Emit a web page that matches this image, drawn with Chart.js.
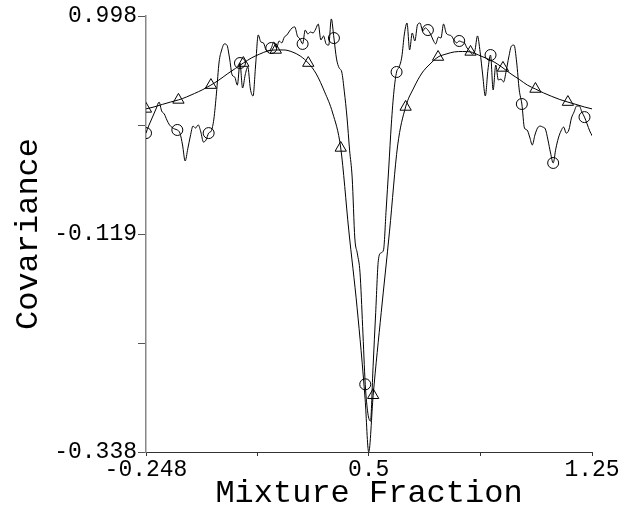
<!DOCTYPE html>
<html>
<head>
<meta charset="utf-8">
<script src="https://cdn.jsdelivr.net/npm/chart.js@4.4.1/dist/chart.umd.min.js"></script>
<style>
  html, body { margin: 0; padding: 0; background: #fff; }
  canvas { display: block; }
</style>
</head>
<body>
<canvas id="cov" width="622" height="510"></canvas>
<script>
// axis labels
var yTicks = [-0.338, -0.119, 0.998]
var xTicks = [-0.248, 0.5, 1.25]

// smooth fit (triangles)
var fitX = [-0.248, -0.221, -0.193, -0.166, -0.139, -0.112, -0.085, -0.057, -0.030, -0.003,
    0.025, 0.052, 0.079, 0.106, 0.134, 0.161, 0.188, 0.215, 0.243, 0.270,
    0.297, 0.324, 0.352, 0.379, 0.406, 0.433, 0.461, 0.488, 0.5, 0.515,
    0.542, 0.570, 0.597, 0.624, 0.651, 0.679, 0.706, 0.733, 0.760, 0.788,
    0.815, 0.842, 0.869, 0.897, 0.924, 0.951, 0.978, 1.006, 1.033, 1.060,
    1.087, 1.115, 1.142, 1.169, 1.196, 1.224, 1.25]
var fitY = [0.522, 0.532, 0.545, 0.557, 0.568, 0.583, 0.601, 0.621, 0.644, 0.670,
    0.701, 0.729, 0.757, 0.783, 0.803, 0.819, 0.824, 0.824, 0.814, 0.793,
    0.757, 0.701, 0.609, 0.501, 0.322, -0.099, -0.193, -0.285, -0.338, -0.281,
    -0.198, -0.104, 0.332, 0.532, 0.629, 0.706, 0.752, 0.788, 0.803, 0.814,
    0.816, 0.814, 0.798, 0.780, 0.760, 0.732, 0.701, 0.673, 0.644, 0.624,
    0.604, 0.586, 0.570, 0.557, 0.545, 0.532, 0.522]

// sampled covariance (circles), regular x spacing from x = -0.248
var sampleX0 = -0.248
var sampleDx = 0.1052 / 12
var sampleY = [0.398, 0.434, 0.465, 0.496, 0.527, 0.557, 0.511, 0.496, 0.465, 0.440,
    0.427, 0.419, 0.414, 0.398, 0.337, 0.255, 0.317, 0.383, 0.434, 0.424,
    0.440, 0.404, 0.352, 0.363, 0.398, 0.409, 0.470, 0.603, 0.762, 0.824,
    0.855, 0.849, 0.783, 0.696, 0.685, 0.644, 0.757, 0.629, 0.696, 0.737,
    0.624, 0.588, 0.747, 0.901, 0.865, 0.860, 0.824, 0.819, 0.834, 0.865,
    0.834, 0.870, 0.860, 0.890, 0.901, 0.921, 0.937, 0.942, 0.896, 0.880,
    0.855, 0.926, 0.906, 0.916, 0.911, 0.931, 0.957, 0.875, 0.896, 0.855,
    0.849, 0.983, 0.885, 0.778, 0.732, 0.711, 0.609, 0.480, 0.311, 0.168,
    -0.123, -0.139, -0.158, -0.212, -0.270, -0.299, -0.307, -0.252, -0.198, -0.146,
    -0.138, -0.135, 0.004, 0.219, 0.445, 0.614, 0.711, 0.737, 0.788, 0.906,
    0.962, 0.824, 0.911, 0.870, 0.952, 0.962, 0.921, 0.937, 0.926, 0.906,
    0.875, 0.855, 0.890, 0.885, 0.957, 0.911, 0.901, 0.896, 0.875, 0.860,
    0.870, 0.865, 0.860, 0.834, 0.819, 0.803, 0.819, 0.896, 0.814, 0.696,
    0.588, 0.721, 0.798, 0.619, 0.747, 0.670, 0.675, 0.660, 0.716, 0.788,
    0.844, 0.849, 0.762, 0.619, 0.547, 0.424, 0.414, 0.378, 0.337, 0.388,
    0.424, 0.434, 0.429, 0.419, 0.363, 0.296, 0.245, 0.317, 0.373, 0.409,
    0.429, 0.398, 0.414, 0.475, 0.506, 0.537, 0.537, 0.506, 0.480, 0.445,
    0.409, 0.383]

// the covariance axis is piecewise linear between its labelled ticks
function toAxis(v) {
    for (var i = 0; i < yTicks.length - 1; i++) {
        if (v <= yTicks[i + 1] || i == yTicks.length - 2) {
            return i + (v - yTicks[i]) / (yTicks[i + 1] - yTicks[i])
        }
    }
}

var fitData = fitX.map(function(x, i) { return {x: x, y: toAxis(fitY[i])} })
var sampleData = sampleY.map(function(v, i) { return {x: sampleX0 + i * sampleDx, y: toAxis(v)} })

var fitMarkStep = 0.109

var font = "'Liberation Mono', 'Courier New', monospace"

Chart.defaults.color = '#000'
Chart.defaults.font.family = font

var ctx = document.getElementById('cov').getContext('2d')
var chart = new Chart(ctx, {
    type: 'scatter',
    data: {
        datasets: [{
                data: sampleData,
                showLine: true,
                borderColor: '#000',
                borderWidth: 1,
                cubicInterpolationMode: 'monotone',
                pointStyle: 'circle',
                pointRadius: function(c) { return c.dataIndex % 12 === 0 ? 5.5 : 0 },
                pointBorderColor: '#000',
                pointBackgroundColor: 'rgba(0,0,0,0)',
                pointBorderWidth: 1
            },
            {
                data: fitData,
                showLine: true,
                borderColor: '#000',
                borderWidth: 1,
                cubicInterpolationMode: 'monotone',
                pointStyle: 'triangle',
                pointRadius: function(c) {
                    var r = (c.raw.x - fitX[0]) / fitMarkStep
                    return Math.abs(r - Math.round(r)) < 0.02 ? 6.5 : 0
                },
                pointBorderColor: '#000',
                pointBackgroundColor: 'rgba(0,0,0,0)',
                pointBorderWidth: 1
            }
        ]
    },
    options: {
        responsive: false,
        animation: false,
        layout: {padding: {top: 16, right: 30, left: 0, bottom: 0}},
        plugins: {legend: {display: false}, tooltip: {enabled: false}},
        scales: {
            x: {
                type: 'linear',
                min: xTicks[0],
                max: xTicks[xTicks.length - 1],
                afterBuildTicks: function(scale) {
                    scale.ticks = [xTicks[0], (xTicks[0] + xTicks[1]) / 2, xTicks[1],
                        (xTicks[1] + xTicks[2]) / 2, xTicks[2]].map(function(v) { return {value: v} })
                },
                afterFit: function(scale) { scale.height = 58 },
                ticks: {
                    autoSkip: false,
                    maxRotation: 0,
                    padding: 0,
                    font: {size: 23},
                    callback: function(v) { return xTicks.indexOf(v) >= 0 ? String(v) : '' }
                },
                grid: {drawOnChartArea: false, tickLength: 4, tickColor: '#333'},
                border: {color: '#333', width: 1},
                title: {display: true, text: 'Mixture Fraction', font: {size: 32, lineHeight: 1}, padding: 0}
            },
            y: {
                type: 'linear',
                min: 0,
                max: yTicks.length - 1,
                afterBuildTicks: function(scale) {
                    scale.ticks = [0, 0.5, 1, 1.5, 2].map(function(v) { return {value: v} })
                },
                afterFit: function(scale) { scale.width = 146 },
                ticks: {
                    padding: 1,
                    font: {size: 23},
                    callback: function(v) { return Number.isInteger(v) ? String(yTicks[v]) : '' }
                },
                grid: {drawOnChartArea: false, tickLength: 8, tickColor: '#555'},
                border: {color: '#888', width: 1.5},
                title: {display: true, text: 'Covariance', font: {size: 32, lineHeight: 1}, padding: {top: 13}}
            }
        }
    }
})
</script>
</body>
</html>
